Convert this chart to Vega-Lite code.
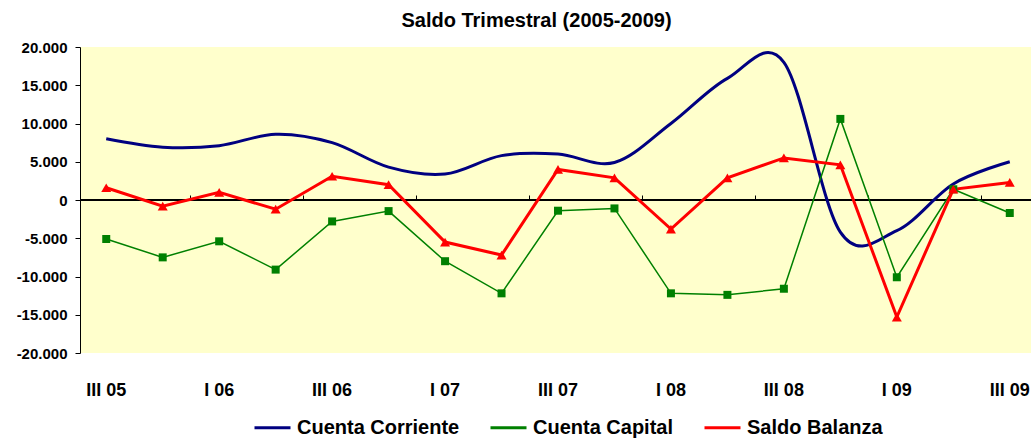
{
  "$schema": "https://vega.github.io/schema/vega-lite/v6.json",
  "width": 951,
  "height": 306,
  "autosize": {"type": "none"},
  "padding": {"left": 80, "top": 47, "right": 0, "bottom": 88},
  "background": "white",
  "title": {"text": "Saldo Trimestral (2005-2009)", "fontSize": 20, "fontWeight": "bold", "font": "Liberation Sans", "color": "black", "anchor": "middle", "offset": 9, "dx": -19},
  "config": {
    "view": {"fill": "#FFFFCC", "stroke": null},
    "font": "Liberation Sans",
    "axisY": {"labelOverlap": false, "labelBound": false, "labelFlush": false},
    "locale": {"number": {"decimal": ",", "thousands": ".", "grouping": [3], "currency": ["", " €"], "minus": "-"}}
  },
  "data": {"values": [
    {"q": "III 05", "s": "Cuenta Corriente", "v": 8000},
    {"q": "IV 05", "s": "Cuenta Corriente", "v": 6900},
    {"q": "I 06", "s": "Cuenta Corriente", "v": 7100},
    {"q": "II 06", "s": "Cuenta Corriente", "v": 8600},
    {"q": "III 06", "s": "Cuenta Corriente", "v": 7500},
    {"q": "IV 06", "s": "Cuenta Corriente", "v": 4300},
    {"q": "I 07", "s": "Cuenta Corriente", "v": 3400},
    {"q": "II 07", "s": "Cuenta Corriente", "v": 5800},
    {"q": "III 07", "s": "Cuenta Corriente", "v": 6000},
    {"q": "IV 07", "s": "Cuenta Corriente", "v": 4900},
    {"q": "I 08", "s": "Cuenta Corriente", "v": 10000},
    {"q": "II 08", "s": "Cuenta Corriente", "v": 15900},
    {"q": "III 08", "s": "Cuenta Corriente", "v": 18000},
    {"q": "IV 08", "s": "Cuenta Corriente", "v": -4200},
    {"q": "I 09", "s": "Cuenta Corriente", "v": -4000},
    {"q": "II 09", "s": "Cuenta Corriente", "v": 2100},
    {"q": "III 09", "s": "Cuenta Corriente", "v": 5000},
    {"q": "III 05", "s": "Cuenta Capital", "v": -5100},
    {"q": "IV 05", "s": "Cuenta Capital", "v": -7500},
    {"q": "I 06", "s": "Cuenta Capital", "v": -5400},
    {"q": "II 06", "s": "Cuenta Capital", "v": -9100},
    {"q": "III 06", "s": "Cuenta Capital", "v": -2800},
    {"q": "IV 06", "s": "Cuenta Capital", "v": -1450},
    {"q": "I 07", "s": "Cuenta Capital", "v": -8000},
    {"q": "II 07", "s": "Cuenta Capital", "v": -12200},
    {"q": "III 07", "s": "Cuenta Capital", "v": -1400},
    {"q": "IV 07", "s": "Cuenta Capital", "v": -1100},
    {"q": "I 08", "s": "Cuenta Capital", "v": -12200},
    {"q": "II 08", "s": "Cuenta Capital", "v": -12400},
    {"q": "III 08", "s": "Cuenta Capital", "v": -11600},
    {"q": "IV 08", "s": "Cuenta Capital", "v": 10600},
    {"q": "I 09", "s": "Cuenta Capital", "v": -10100},
    {"q": "II 09", "s": "Cuenta Capital", "v": 1400},
    {"q": "III 09", "s": "Cuenta Capital", "v": -1700},
    {"q": "III 05", "s": "Saldo Balanza", "v": 1600},
    {"q": "IV 05", "s": "Saldo Balanza", "v": -800},
    {"q": "I 06", "s": "Saldo Balanza", "v": 1000},
    {"q": "II 06", "s": "Saldo Balanza", "v": -1200},
    {"q": "III 06", "s": "Saldo Balanza", "v": 3100},
    {"q": "IV 06", "s": "Saldo Balanza", "v": 2000},
    {"q": "I 07", "s": "Saldo Balanza", "v": -5500},
    {"q": "II 07", "s": "Saldo Balanza", "v": -7200},
    {"q": "III 07", "s": "Saldo Balanza", "v": 4000},
    {"q": "IV 07", "s": "Saldo Balanza", "v": 2900},
    {"q": "I 08", "s": "Saldo Balanza", "v": -3800},
    {"q": "II 08", "s": "Saldo Balanza", "v": 2900},
    {"q": "III 08", "s": "Saldo Balanza", "v": 5500},
    {"q": "IV 08", "s": "Saldo Balanza", "v": 4600},
    {"q": "I 09", "s": "Saldo Balanza", "v": -15300},
    {"q": "II 09", "s": "Saldo Balanza", "v": 1400},
    {"q": "III 09", "s": "Saldo Balanza", "v": 2300}
  ]},
  "layer": [
    {
      "mark": {"type": "rule", "color": "black", "strokeWidth": 1},
      "encoding": {"y": {"datum": 0, "type": "quantitative",
          "scale": {"domain": [-20000, 20000], "nice": false},
          "axis": {"title": null, "values": [-20000,-15000,-10000,-5000,0,5000,10000,15000,20000], "tickCount": 9, "format": ",d", "labelOverlap": false, "grid": false, "domainColor": "black", "tickColor": "black", "tickSize": 5, "labelFont": "Liberation Sans", "labelFontSize": 15, "labelFontWeight": "bold", "labelColor": "black", "labelPadding": 8}}}
    },
    {
      "transform": [{"filter": "datum.s === 'Cuenta Corriente'"}],
      "mark": {"type": "line", "interpolate": "cardinal", "tension": 0, "strokeWidth": 3},
      "encoding": {
        "x": {"field": "q", "type": "ordinal",
          "sort": ["III 05","IV 05","I 06","II 06","III 06","IV 06","I 07","II 07","III 07","IV 07","I 08","II 08","III 08","IV 08","I 09","II 09","III 09"],
          "scale": {"type": "band", "paddingInner": 0, "paddingOuter": 0, "range": [-2, 958]},
          "axis": {"title": null, "values": ["III 05","I 06","III 06","I 07","III 07","I 08","III 08","I 09","III 09"], "domain": false, "ticks": false, "tickSize": 0, "labelAngle": 0, "labelOverlap": false, "labelFont": "Liberation Sans", "labelFontSize": 18, "labelFontWeight": "bold", "labelColor": "black", "labelPadding": 28, "grid": false}},
        "y": {"field": "v", "type": "quantitative",
          "scale": {"domain": [-20000, 20000], "nice": false},
          "axis": {"title": null, "values": [-20000,-15000,-10000,-5000,0,5000,10000,15000,20000], "tickCount": 9, "format": ",d", "labelOverlap": false, "grid": false, "domainColor": "black", "tickColor": "black", "tickSize": 5, "labelFont": "Liberation Sans", "labelFontSize": 15, "labelFontWeight": "bold", "labelColor": "black", "labelPadding": 8}},
        "color": {"field": "s", "type": "nominal",
          "scale": {"domain": ["Cuenta Corriente","Cuenta Capital","Saldo Balanza"], "range": ["#000080","#008000","#FF0000"]},
          "legend": {"title": null, "orient": "none", "legendX": 173, "legendY": 361, "direction": "horizontal", "symbolType": "stroke", "symbolSize": 1296, "symbolStrokeWidth": 3, "labelFont": "Liberation Sans", "labelFontSize": 20, "labelFontWeight": "bold", "labelColor": "black", "labelLimit": 400, "columnPadding": 24, "labelOffset": 5}}
      }
    },
    {
      "transform": [{"filter": "datum.s === 'Cuenta Capital'"}],
      "mark": {"type": "line", "strokeWidth": 1.5},
      "encoding": {
        "x": {"field": "q", "type": "ordinal",
          "sort": ["III 05","IV 05","I 06","II 06","III 06","IV 06","I 07","II 07","III 07","IV 07","I 08","II 08","III 08","IV 08","I 09","II 09","III 09"],
          "axis": {"title": null, "values": ["I 06","III 06","I 07","III 07","I 08","III 08","I 09","III 09"], "bandPosition": 0, "labels": false, "domain": false, "ticks": true, "tickSize": 5, "tickColor": "black", "offset": -153, "grid": false}},
        "y": {"field": "v", "type": "quantitative"},
        "color": {"field": "s", "type": "nominal"}
      }
    },
    {
      "transform": [{"filter": "datum.s === 'Saldo Balanza'"}],
      "mark": {"type": "line", "strokeWidth": 3},
      "encoding": {
        "x": {"field": "q", "type": "ordinal", "sort": ["III 05","IV 05","I 06","II 06","III 06","IV 06","I 07","II 07","III 07","IV 07","I 08","II 08","III 08","IV 08","I 09","II 09","III 09"], "axis": null},
        "y": {"field": "v", "type": "quantitative"},
        "color": {"field": "s", "type": "nominal"}
      }
    },
    {
      "transform": [{"filter": "datum.s === 'Cuenta Capital'"}],
      "mark": {"type": "square", "size": 64, "color": "#008000", "opacity": 1},
      "encoding": {
        "x": {"field": "q", "type": "ordinal", "sort": ["III 05","IV 05","I 06","II 06","III 06","IV 06","I 07","II 07","III 07","IV 07","I 08","II 08","III 08","IV 08","I 09","II 09","III 09"], "axis": null},
        "y": {"field": "v", "type": "quantitative"}
      }
    },
    {
      "transform": [{"filter": "datum.s === 'Saldo Balanza'"}],
      "mark": {"type": "point", "shape": "triangle-up", "filled": true, "size": 100, "color": "#FF0000", "opacity": 1},
      "encoding": {
        "x": {"field": "q", "type": "ordinal", "sort": ["III 05","IV 05","I 06","II 06","III 06","IV 06","I 07","II 07","III 07","IV 07","I 08","II 08","III 08","IV 08","I 09","II 09","III 09"], "axis": null},
        "y": {"field": "v", "type": "quantitative"}
      }
    }
  ],
  "resolve": {"axis": {"x": "independent"}}
}
